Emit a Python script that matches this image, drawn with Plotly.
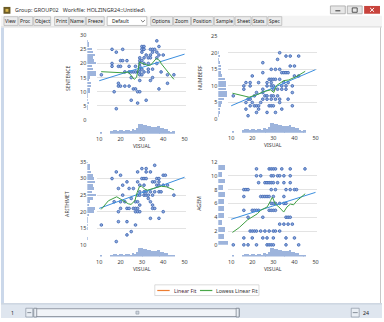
import plotly.graph_objects as go

# ---------------- data ----------------
visual_bins = list(range(11, 46))
visual_counts = [1, 0, 0, 0, 0, 2, 3, 3, 2, 3, 3, 2, 3, 3, 2, 4, 3, 5, 9, 9,
                 8, 8, 7, 7, 6, 6, 6, 7, 5, 5, 4, 4, 2, 1, 2]

sentence_bins = list(range(4, 29))
sentence_counts = [1, 1, 2, 1, 1, 1, 3, 3, 4, 4, 2, 3, 10, 10, 6, 5, 9, 7, 6, 8, 6, 5, 2, 2, 1]

numberf_bins = list(range(1, 21))
numberf_counts = [1, 2, 2, 3, 4, 6, 9, 10, 8, 8, 8, 7, 4, 3, 3, 3, 2, 1, 2, 1]

arith_bins = list(range(11, 36))
arith_counts = [0, 1, 0, 0, 1, 1, 1, 1, 2, 7, 8, 2, 3, 6, 9, 5, 7, 6, 8, 7, 6, 4, 3, 3, 1]

agem_bins = list(range(0, 12))
agem_counts = [15, 10, 11, 6, 9, 10, 10, 11, 8, 11, 6, 11]

tl_visual = [37,
             30, 31, 38,
             16, 21, 30, 31, 34, 35, 36,
             18, 30, 35, 37,
             32, 34, 38, 40,
             29, 31, 33, 34, 37,
             20, 21, 23, 29, 30,
             16, 29, 31, 33, 37,
             16, 19, 20, 24, 27, 29,
             29, 30, 33, 35,
             22, 24, 25, 26, 27, 28, 29, 31, 33, 39,
             11, 29, 30, 42, 45,
             25, 35,
             29, 34,
             19, 42,
             19, 20, 22, 24,
             26, 27, 38,
             17, 28, 29,
             25, 32,
             28,
             18]
tl_sentence = [28,
               26, 26, 26,
               25, 25, 25, 25, 25, 25, 25,
               24, 24, 24, 24,
               23, 23, 23, 23,
               22, 22, 22, 22, 22,
               21, 21, 21, 21, 21,
               20, 20, 20, 20, 20,
               19, 19, 19, 19, 19, 19,
               18, 18, 18, 18,
               17, 17, 17, 17, 17, 17, 17, 17, 17, 17,
               16, 16, 16, 16, 16,
               15, 15,
               14, 14,
               13, 13,
               12, 12, 12, 12,
               11, 11, 11,
               10, 10, 10,
               7, 7,
               6,
               4]

tr_visual = [33,
             36, 38, 42,
             32,
             25,
             38, 40,
             29, 31, 33,
             25, 34, 35, 36, 37,
             20, 40, 42,
             28, 29, 30, 31, 33,
             17, 19, 23, 27, 29, 35, 37,
             16, 19, 27, 29, 30, 34, 36, 39,
             16, 25, 30, 32, 34, 36,
             22, 25, 39,
             11, 21, 26, 27, 29, 30, 32,
             18, 19, 25, 27, 29, 31, 33, 37,
             17, 20, 24, 33,
             19, 21, 22, 23, 28, 29, 30, 39,
             17, 23, 34,
             22, 27, 31,
             18]
tr_numberf = [20,
              19, 19, 19,
              18,
              17,
              16, 16,
              15, 15, 15,
              14, 14, 14, 14, 14,
              13, 13, 13,
              12, 12, 12, 12, 12,
              11, 11, 11, 11, 11, 11, 11,
              10, 10, 10, 10, 10, 10, 10, 10,
              9, 9, 9, 9, 9, 9,
              8, 8, 8,
              7, 7, 7, 7, 7, 7, 7,
              6, 6, 6, 6, 6, 6, 6, 6,
              5, 5, 5, 5,
              4, 4, 4, 4, 4, 4, 4, 4,
              3, 3, 3,
              2, 2, 2,
              1]

bl_visual = [36,
             30, 32,
             18, 28, 32, 34,
             20, 40, 41,
             16, 30, 31, 32, 37, 38,
             23, 28, 35, 36, 38,
             21, 29, 31, 37, 38, 40, 42,
             19, 24, 26,
             29, 31, 32, 34, 36, 38, 39,
             21, 28, 29, 31, 32, 33, 35, 45,
             25, 33,
             17, 20, 22, 27, 28, 34,
             29, 35,
             20, 23, 24, 26, 27, 28, 35, 36,
             19, 27, 28, 29, 40,
             34, 38,
             19, 23,
             11, 27,
             25,
             23,
             18]
bl_arithmet = [34,
               33, 33,
               32, 32, 32, 32,
               31, 31, 31,
               30, 30, 30, 30, 30, 30,
               29, 29, 29, 29, 29,
               28, 28, 28, 28, 28, 28, 28,
               27, 27, 27,
               26, 26, 26, 26, 26, 26, 26,
               25, 25, 25, 25, 25, 25, 25, 25,
               24, 24,
               23, 23, 23, 23, 23, 23,
               22, 22,
               21, 21, 21, 21, 21, 21, 21, 21,
               20, 20, 20, 20, 20,
               18, 18,
               17, 17,
               16, 16,
               14,
               13,
               11]

br_visual = [22, 28, 29, 30, 31, 34, 38, 45,
             22, 24, 29, 30, 32, 33, 35, 38,
             23, 26, 27, 28, 29, 30, 32, 35, 38,
             16, 17, 18, 29, 31, 36, 38, 40, 41,
             16, 24, 25, 26, 27, 28, 30, 35,
             29, 30, 31, 33, 35, 36,
             16, 20, 21, 22, 23, 28, 29, 30, 31,
             18, 25, 36, 37, 38,
             33, 35, 37, 39,
             19, 20, 21, 22, 24, 26, 28, 30, 31, 33,
             16, 20, 25, 27, 30, 36, 40,
             11, 16, 18, 22, 27, 28, 29, 30, 36, 42]
br_agem = [11, 11, 11, 11, 11, 11, 11, 11,
           10, 10, 10, 10, 10, 10, 10, 10,
           9, 9, 9, 9, 9, 9, 9, 9, 9,
           8, 8, 8, 8, 8, 8, 8, 8, 8,
           7, 7, 7, 7, 7, 7, 7, 7,
           6, 6, 6, 6, 6, 6,
           5, 5, 5, 5, 5, 5, 5, 5, 5,
           4, 4, 4, 4, 4,
           3, 3, 3, 3,
           2, 2, 2, 2, 2, 2, 2, 2, 2, 2,
           1, 1, 1, 1, 1, 1, 1,
           0, 0, 0, 0, 0, 0, 0, 0, 0, 0]

tl_fit_x = [10, 50]
tl_fit_y = [13.9, 23.3]
tr_fit_x = [10, 50]
tr_fit_y = [4.0, 14.9]
bl_fit_x = [10, 50]
bl_fit_y = [21.0, 30.4]
br_fit_x = [10, 50]
br_fit_y = [3.7, 7.6]

tl_lowess_x = [10.9, 14.3, 18.2, 21.3, 23.6, 25.2, 26.4, 27.5, 28.3, 28.9, 29.8, 31.1, 32.9,
               34.2, 35.7, 36.8, 38.4, 39.1, 42.2, 45.0]
tl_lowess_y = [17.1, 17.0, 16.9, 16.7, 17.0, 15.6, 14.4, 15.1, 18.7, 20.5, 20.2, 19.9, 19.3,
               19.5, 21.0, 21.8, 21.0, 19.9, 17.0, 14.4]
tr_lowess_x = [10.6, 18.5, 22.4, 25.5, 28.7, 30.2, 31.5, 33.4, 34.9, 37.3, 38.9, 41.2, 45.1]
tr_lowess_y = [7.8, 6.6, 7.4, 8.3, 8.8, 8.0, 10.1, 10.8, 11.6, 11.8, 12.3, 12.9, 14.4]
bl_lowess_x = [10.9, 14.3, 18.2, 20.5, 23.6, 24.9, 26.7, 27.8, 28.8, 29.8, 31.4, 32.6, 34.5,
               36.8, 39.1, 41.5, 45.0]
bl_lowess_y = [20.7, 23.3, 24.5, 23.6, 22.4, 22.2, 23.3, 25.8, 27.5, 27.7, 26.8, 26.5, 26.8,
               27.3, 27.7, 27.5, 26.6]
br_lowess_x = [10.6, 13.8, 17.7, 20.0, 22.4, 24.0, 25.5, 27.1, 28.7, 29.5, 31.0, 32.6, 34.9,
               36.5, 38.1, 39.6, 41.2, 45.1]
br_lowess_y = [1.8, 2.5, 3.6, 4.0, 4.5, 5.0, 5.2, 5.5, 6.4, 6.9, 5.9, 5.5, 4.75,
               5.5, 5.9, 5.8, 6.4, 7.4]

x_ticks = [10, 20, 30, 40, 50]
x_title = "VISUAL"

# ---------------- layout helpers ----------------
W, H = 384, 322
FONT = "Noto Sans"


def X(p):
    return p / W


def Y(p):
    return 1 - p / H


HIST = "#9db4dc"
PT_FILL = "#8faadd"
PT_LINE = "#3862b0"
FIT = "#3b8ede"
LOW = "#3fa043"
GRID = "#e3e3e3"
TICK = "#3c3c3c"

panels = [
    dict(x=tl_visual, y=tl_sentence, fx=tl_fit_x, fy=tl_fit_y, lx=tl_lowess_x, ly=tl_lowess_y,
         hb=sentence_bins, hc=sentence_counts, title="SENTENCE",
         ticks=[0, 5, 10, 15, 20, 25, 30], grid=[5, 10, 15, 20, 25],
         xdom=(97, 186), xr=(10 - 2 / 2.15, 50 + 1 / 2.15), ydom=(32, 119), yr=(0, 30),
         xh=(122, 133), yh=(87, 97), yhmax=10.5, bw=0.8, boff=None, ytx=67),
    dict(x=tr_visual, y=tr_numberf, fx=tr_fit_x, fy=tr_fit_y, lx=tr_lowess_x, ly=tr_lowess_y,
         hb=numberf_bins, hc=numberf_counts, title="NUMBERF",
         ticks=[0, 5, 10, 15, 20, 25], grid=[5, 10, 15, 20],
         xdom=(229, 318), xr=(10 - 3 / 2.125, 50 + 1 / 2.125), ydom=(33, 118), yr=(0, 25),
         xh=(121, 132), yh=(219, 229), yhmax=10.5, bw=0.8, boff=None, ytx=200),
    dict(x=bl_visual, y=bl_arithmet, fx=bl_fit_x, fy=bl_fit_y, lx=bl_lowess_x, ly=bl_lowess_y,
         hb=arith_bins, hc=arith_counts, title="ARITHMET",
         ticks=[10, 15, 20, 25, 30, 35], grid=[15, 20, 25, 30],
         xdom=(97, 186), xr=(10 - 2 / 2.15, 50 + 1 / 2.15), ydom=(162, 247), yr=(10, 35),
         xh=(250, 259), yh=(87, 97), yhmax=10, bw=0.8, boff=None, ytx=67),
    dict(x=br_visual, y=br_agem, fx=br_fit_x, fy=br_fit_y, lx=br_lowess_x, ly=br_lowess_y,
         hb=agem_bins, hc=agem_counts, title="AGEM",
         ticks=[0, 2, 4, 6, 8, 10, 12], grid=[2, 4, 6, 8, 10],
         xdom=(229, 318), xr=(10 - 3 / 2.125, 50 + 1 / 2.125), ydom=(162, 247), yr=(0, 12),
         xh=(250, 259), yh=(219, 229), yhmax=15.5, bw=0.7, boff=-0.1, ytx=200),
]


def sfx(n):
    return "" if n == 1 else str(n)


fig = go.Figure()
lay = {}
annotations = []

tickfont = dict(family=FONT, size=5.5, color=TICK)

for i, p in enumerate(panels):
    a, b, c = 4 * i + 1, 4 * i + 2, 4 * i + 3
    xa, ya, yb, xc, yc = "x" + sfx(a), "y" + sfx(a), "y" + sfx(b), "x" + sfx(c), "y" + sfx(c)

    # marginal histogram of VISUAL (bottom)
    fig.add_trace(go.Bar(x=visual_bins, y=visual_counts, xaxis=xa, yaxis=yb,
                         marker=dict(color=HIST, line=dict(width=0)), width=0.8))
    # marginal histogram of Y variable (left)
    bar_kw = dict(offset=p["boff"]) if p["boff"] is not None else {}
    fig.add_trace(go.Bar(y=p["hb"], x=p["hc"], orientation="h", xaxis=xc, yaxis=yc,
                         marker=dict(color=HIST, line=dict(width=0)), width=p["bw"], **bar_kw))
    # scatter
    fig.add_trace(go.Scatter(x=p["x"], y=p["y"], mode="markers", xaxis=xa, yaxis=ya,
                             cliponaxis=False,
                             marker=dict(symbol="circle", size=2.7, color=PT_FILL,
                                         line=dict(color=PT_LINE, width=0.8))))
    # linear fit
    fig.add_trace(go.Scatter(x=p["fx"], y=p["fy"], mode="lines", xaxis=xa, yaxis=ya,
                             line=dict(color=FIT, width=1.0)))
    # lowess
    fig.add_trace(go.Scatter(x=p["lx"], y=p["ly"], mode="lines", xaxis=xa, yaxis=ya,
                             line=dict(color=LOW, width=1.0)))

    xd = [X(p["xdom"][0]), X(p["xdom"][1])]
    yd = [Y(p["ydom"][1]), Y(p["ydom"][0])]

    lay["xaxis" + sfx(a)] = dict(domain=xd, range=list(p["xr"]), anchor="free",
                                 position=Y(p["xh"][1]), tickvals=x_ticks, ticks="",
                                 showgrid=False, zeroline=False, showline=False,
                                 tickfont=tickfont, ticklabelstandoff=1)
    lay["yaxis" + sfx(a)] = dict(domain=yd, range=list(p["yr"]), anchor="free",
                                 position=X(p["yh"][0]), tickvals=p["ticks"], ticks="",
                                 showgrid=False, zeroline=False, showline=False,
                                 tickfont=tickfont, ticklabelstandoff=1,
                                 minor=dict(tickmode="array", tickvals=p["grid"], ticks="",
                                            showgrid=True, gridcolor=GRID, gridwidth=1))
    lay["yaxis" + sfx(b)] = dict(domain=[Y(p["xh"][1]), Y(p["xh"][0])], range=[0, 9.5],
                                 anchor=xa, showticklabels=False, showgrid=False,
                                 zeroline=False, showline=False, ticks="")
    lay["xaxis" + sfx(c)] = dict(domain=[X(p["yh"][0]), X(p["yh"][1])], range=[0, p["yhmax"]],
                                 anchor=yc, showticklabels=False, showgrid=False,
                                 zeroline=False, showline=False, ticks="")
    lay["yaxis" + sfx(c)] = dict(domain=yd, range=list(p["yr"]), anchor=xc,
                                 showticklabels=False, showgrid=False, zeroline=False,
                                 showline=False, ticks="")

    # axis titles
    xmid = (p["xdom"][0] + 2 + p["xdom"][1] - 1) / 2
    annotations.append(dict(x=X(xmid), y=Y(p["xh"][1] + 13), text=x_title, showarrow=False,
                            xref="paper", yref="paper", xanchor="center", yanchor="middle",
                            font=dict(family=FONT, size=5.2, color=TICK)))
    annotations.append(dict(x=X(p["ytx"]), y=Y((p["ydom"][0] + p["ydom"][1]) / 2),
                            text=p["title"], showarrow=False, textangle=-90,
                            xref="paper", yref="paper", xanchor="center", yanchor="middle",
                            font=dict(family=FONT, size=5.2, color=TICK)))

# ---------------- window chrome ----------------
shapes = []


def rect(x0, y0, x1, y1, fill, line=None, lw=1, layer="below"):
    return dict(type="rect", xref="paper", yref="paper", x0=X(x0), x1=X(x1), y0=Y(y1), y1=Y(y0),
                fillcolor=fill, line=dict(color=line if line else fill, width=lw if line else 0),
                layer=layer)


def seg(x0, y0, x1, y1, color, w=1, layer="above"):
    return dict(type="line", xref="paper", yref="paper", x0=X(x0), x1=X(x1), y0=Y(y0), y1=Y(y1),
                line=dict(color=color, width=w), layer=layer)


def txt(x, y, s, size=5.2, color="#222222", xanchor="center", angle=0):
    annotations.append(dict(x=X(x), y=Y(y), text=s, showarrow=False, xref="paper", yref="paper",
                            xanchor=xanchor, yanchor="middle", textangle=angle,
                            font=dict(family=FONT, size=size, color=color)))


# title bar
shapes.append(rect(0, 0, 384, 12, "#ffffff"))
shapes.append(rect(2.5, 3, 9.5, 10, "#6a5a25"))
shapes.append(rect(4.5, 5, 7.5, 8, "#d9b54a"))
txt(12, 6.5, "Group: GROUP02   Workfile: HOLZINGR24::Untitled\\", size=5.4, color="#333333",
    xanchor="left")
shapes.append(rect(332, 2, 347, 10, "#e6e6e6", "#a6a6a6", 0.8))
shapes.append(seg(337, 7, 342, 7, "#333333", 1))
shapes.append(rect(349, 2, 364, 10, "#e6e6e6", "#a6a6a6", 0.8))
shapes.append(dict(type="rect", xref="paper", yref="paper", x0=X(354), x1=X(359), y0=Y(8.5),
                   y1=Y(4), line=dict(color="#333333", width=0.8), layer="above"))
shapes.append(rect(366, 2, 382, 10, "#c8433c"))
shapes.append(seg(372, 4, 376, 8, "#ffffff", 1))
shapes.append(seg(376, 4, 372, 8, "#ffffff", 1))

# toolbar
shapes.append(rect(0, 12, 384, 23, "#f4f4f4"))
shapes.append(seg(0, 23.5, 384, 23.5, "#d6d6d6", 1, "below"))
toolbar = [("View", 3, 17), ("Proc", 18, 32), ("Object", 33, 50), ("Print", 54, 68),
           ("Name", 69, 85), ("Freeze", 86, 104), ("Options", 151, 173), ("Zoom", 174, 191),
           ("Position", 192, 214), ("Sample", 215, 235), ("Sheet", 236, 252),
           ("Stats", 253, 268), ("Spec", 269, 283)]
for lab, x0, x1 in toolbar:
    shapes.append(rect(x0, 13, x1, 22, "#ececec", "#b3b3b3", 0.7))
    txt((x0 + x1) / 2, 17.6, lab, size=4.9, color="#1a1a1a")
shapes.append(rect(107, 13, 147, 22, "#ffffff", "#a8a8a8", 0.7))
txt(110, 17.6, "Default", size=4.9, color="#1a1a1a", xanchor="left")
shapes.append(dict(type="path", xref="paper", yref="paper",
                   path=f"M {X(141)} {Y(16.5)} L {X(143)} {Y(18.5)} L {X(145)} {Y(16.5)}",
                   line=dict(color="#555555", width=0.8), layer="above"))

# content frame
shapes.append(rect(0, 24, 3, 307, "#cbd8ea"))
shapes.append(seg(382.5, 24, 382.5, 307, "#c8c8c8", 1, "below"))

# legend
shapes.append(rect(155, 288, 260, 299, "#ffffff", "#d2d2d2", 0.8, "above"))
shapes.append(seg(157.5, 293.8, 170, 293.8, "#ed7d31", 1.2))
txt(172, 294, "Linear Fit", size=5.2, color="#4a2638", xanchor="left")
shapes.append(seg(200.5, 293.8, 213, 293.8, "#4aa84a", 1.2))
txt(215, 294, "Lowess Linear Fit", size=5.2, color="#333333", xanchor="left")

# bottom bar
shapes.append(rect(0, 307, 384, 322, "#dfe6ef"))
shapes.append(seg(0, 307.5, 384, 307.5, "#c3ccd8", 1, "below"))
txt(12, 316.5, "1", size=5.2, color="#222222")
shapes.append(rect(25, 312, 32, 321, "#e9eef4", "#8c96a3", 0.7))
shapes.append(seg(26.5, 316.5, 30.5, 316.5, "#5a6470", 0.7))
shapes.append(rect(34, 312.5, 240, 320.5, "#f1f4f8", "#7f8792", 0.8))
shapes.append(rect(33, 312, 36, 321, "#e9eef4", "#6f7782", 0.7))
shapes.append(rect(237, 312, 240, 321, "#e9eef4", "#6f7782", 0.7))
shapes.append(rect(136, 315, 139, 318, "#cfd6df", "#8c96a3", 0.6))
shapes.append(rect(353, 312, 361, 321, "#e9eef4", "#8c96a3", 0.7))
shapes.append(seg(354.5, 316.5, 359.5, 316.5, "#5a6470", 0.7))
txt(368, 316.5, "24", size=5.2, color="#222222")

fig.update_layout(
    width=W, height=H, autosize=False,
    margin=dict(l=0, r=0, t=0, b=0, pad=0),
    paper_bgcolor="#ffffff", plot_bgcolor="rgba(0,0,0,0)",
    showlegend=False, barmode="overlay", bargap=0,
    shapes=shapes, annotations=annotations,
    font=dict(family=FONT, size=5.5, color=TICK),
    **lay,
)

fig.write_html("out.html")
